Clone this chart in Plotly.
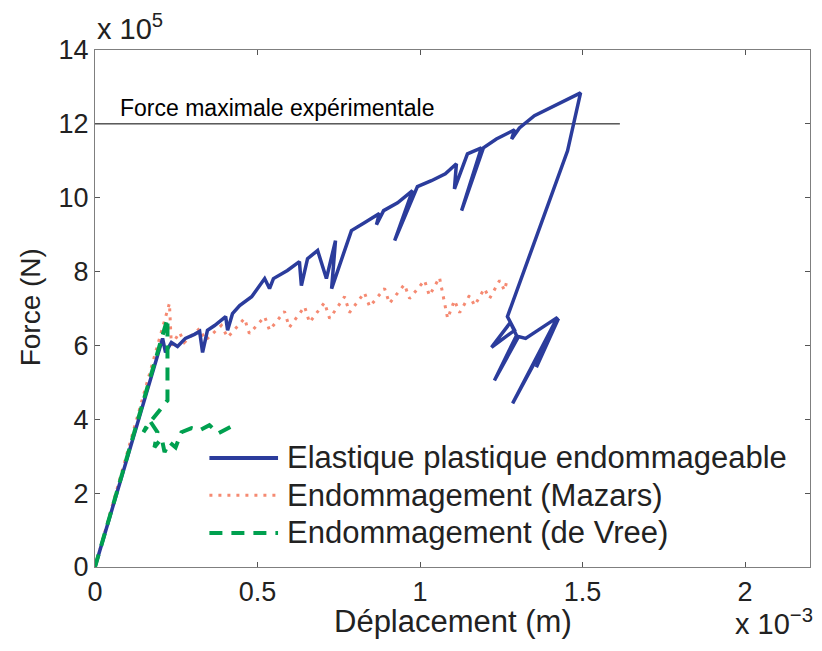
import plotly.graph_objects as go

# Displacement in units of 1e-3 m, force in units of 1e5 N
disp_elastoplastic = [0, 0.208, 0.217, 0.235, 0.254, 0.278, 0.306, 0.322, 0.331, 0.346, 0.368, 0.389,
                      0.402, 0.408, 0.423, 0.445, 0.482, 0.522, 0.537, 0.549, 0.592, 0.629, 0.635,
                      0.654, 0.685, 0.712, 0.740, 0.728, 0.789, 0.829, 0.875, 0.866, 0.888, 0.931,
                      0.977, 0.922, 0.992, 1.035, 1.078, 1.112, 1.106, 1.146, 1.189, 1.128, 1.195,
                      1.235, 1.291, 1.282, 1.306, 1.352, 1.494, 1.454, 1.269, 1.291, 1.220, 1.278,
                      1.297, 1.229, 1.303, 1.325, 1.423, 1.285, 1.426, 1.358]
force_elastoplastic = [0, 6.19, 5.81, 6.08, 5.97, 6.19, 6.30, 6.38, 5.81, 6.41, 6.54, 6.68,
                       6.78, 6.41, 6.86, 7.08, 7.32, 7.81, 7.54, 7.81, 8.03, 8.27, 7.62,
                       8.35, 8.57, 7.81, 8.84, 7.54, 9.11, 9.32, 9.57, 9.27, 9.65, 9.86,
                       10.19, 8.84, 10.30, 10.46, 10.65, 10.92, 10.24, 11.19, 11.35, 9.65, 11.35,
                       11.59, 11.84, 11.59, 11.89, 12.22, 12.84, 11.27, 6.78, 6.41, 5.95, 6.62,
                       6.27, 5.05, 6.24, 6.19, 6.76, 4.43, 6.73, 5.41]

disp_mazars = [0, 0.229, 0.235, 0.260, 0.275, 0.322, 0.340, 0.389, 0.408, 0.460, 0.475, 0.522,
               0.537, 0.583, 0.598, 0.645, 0.660, 0.706, 0.722, 0.768, 0.783, 0.829, 0.845,
               0.891, 0.906, 0.952, 0.968, 1.014, 1.029, 1.060, 1.085, 1.106, 1.122, 1.152,
               1.168, 1.198, 1.214, 1.245, 1.260, 1.269]
force_mazars = [0, 7.14, 6.00, 6.35, 6.08, 6.46, 6.14, 6.54, 6.22, 6.73, 6.32, 6.78,
                6.41, 6.92, 6.49, 7.05, 6.62, 7.16, 6.73, 7.32, 6.89, 7.43, 7.05,
                7.54, 7.14, 7.65, 7.27, 7.76, 7.35, 7.84, 6.73, 7.22, 6.89, 7.35,
                7.08, 7.54, 7.27, 7.76, 7.49, 7.81]

disp_devree = [0, 0.223, 0.223, 0.198, 0.174, 0.149, 0.168, 0.192, 0.183, 0.205, 0.214, 0.229,
               0.248, 0.266, 0.297, 0.322, 0.352, 0.380, 0.420]
force_devree = [0, 6.73, 4.51, 4.24, 3.97, 3.65, 3.97, 3.65, 3.24, 3.49, 3.11, 3.38,
                3.24, 3.65, 3.76, 3.70, 3.84, 3.62, 3.81]

max_force_x = [0, 1.615]
max_force_y = [12, 12]

x_ticks = [0, 0.5, 1, 1.5, 2]
x_tick_text = ["0", "0.5", "1", "1.5", "2"]
y_ticks = [0, 2, 4, 6, 8, 10, 12, 14]
y_tick_text = ["0", "2", "4", "6", "8", "10", "12", "14"]

legend_names = ["Elastique plastique endommageable", "Endommagement (Mazars)", "Endommagement (de Vree)"]

BLUE = "#2b3c9c"
RED = "#f58a72"
GREEN = "#00a04f"
FONT = "Liberation Sans, Arial, sans-serif"
TXT = "#222222"

fig = go.Figure()
fig.add_trace(go.Scatter(x=max_force_x, y=max_force_y, mode="lines",
                         line=dict(color="black", width=1), showlegend=False))
fig.add_trace(go.Scatter(x=disp_mazars, y=force_mazars, mode="lines",
                         line=dict(color=RED, width=3, dash="3px,6px"), showlegend=False))
fig.add_trace(go.Scatter(x=disp_elastoplastic, y=force_elastoplastic, mode="lines",
                         line=dict(color=BLUE, width=3.5), showlegend=False))
fig.add_trace(go.Scatter(x=disp_devree, y=force_devree, mode="lines",
                         line=dict(color=GREEN, width=4, dash="13px,9px"), showlegend=False))

axis_common = dict(showline=True, linecolor="#7f7f7f", linewidth=1.3, mirror="ticks",
                   ticks="inside", ticklen=5, tickcolor="#555555", showgrid=False, zeroline=False,
                   automargin=False, tickfont=dict(family=FONT, size=27, color=TXT))

fig.update_xaxes(range=[0, 2.2], tickvals=x_ticks, ticktext=x_tick_text, **axis_common)
fig.update_yaxes(range=[0, 14], tickvals=y_ticks, ticktext=y_tick_text, **axis_common)

# axis titles
fig.add_annotation(xref="paper", yref="paper", x=0.5, y=-0.106, text="Déplacement (m)", showarrow=False,
                   xanchor="center", yanchor="middle", font=dict(family=FONT, size=31, color=TXT))
fig.add_annotation(xref="paper", yref="paper", x=-0.089, y=0.503, text="Force (N)", showarrow=False,
                   textangle=-90, xanchor="center", yanchor="middle",
                   font=dict(family=FONT, size=28, color=TXT))

# manual legend
styles = [dict(color=BLUE, width=4), dict(color=RED, width=3, dash="3px,6px"),
          dict(color=GREEN, width=4, dash="13px,9px")]
rows_y = [0.211, 0.139, 0.066]
for name, st, yy in zip(legend_names, styles, rows_y):
    fig.add_shape(type="line", xref="paper", yref="paper", x0=0.160, x1=0.256, y0=yy, y1=yy, line=st)
    fig.add_annotation(xref="paper", yref="paper", x=0.266, y=yy, text=name, showarrow=False,
                       xanchor="left", yanchor="middle",
                       font=dict(family=FONT, size=31, color=TXT))

fig.add_annotation(x=0.07, y=12.0, yanchor="bottom", xanchor="left", text="Force maximale expérimentale",
                   showarrow=False, yshift=1, font=dict(family=FONT, size=23, color="black"))
fig.add_annotation(xref="paper", yref="paper", x=0.0, y=1.006, xanchor="left", yanchor="bottom",
                   text="x 10<sup>5</sup>", showarrow=False,
                   font=dict(family=FONT, size=29, color=TXT))
fig.add_annotation(xref="paper", yref="paper", x=1.007, y=-0.068, xanchor="right", yanchor="top",
                   text="x 10<sup>−3</sup>", showarrow=False,
                   font=dict(family=FONT, size=29, color=TXT))

fig.update_layout(width=822, height=651, margin=dict(l=95, r=12, t=50, b=84),
                  plot_bgcolor="white", paper_bgcolor="white")
fig.write_html("out.html", config={"displayModeBar": False},
               post_script="document.body.style.margin='0px';")
